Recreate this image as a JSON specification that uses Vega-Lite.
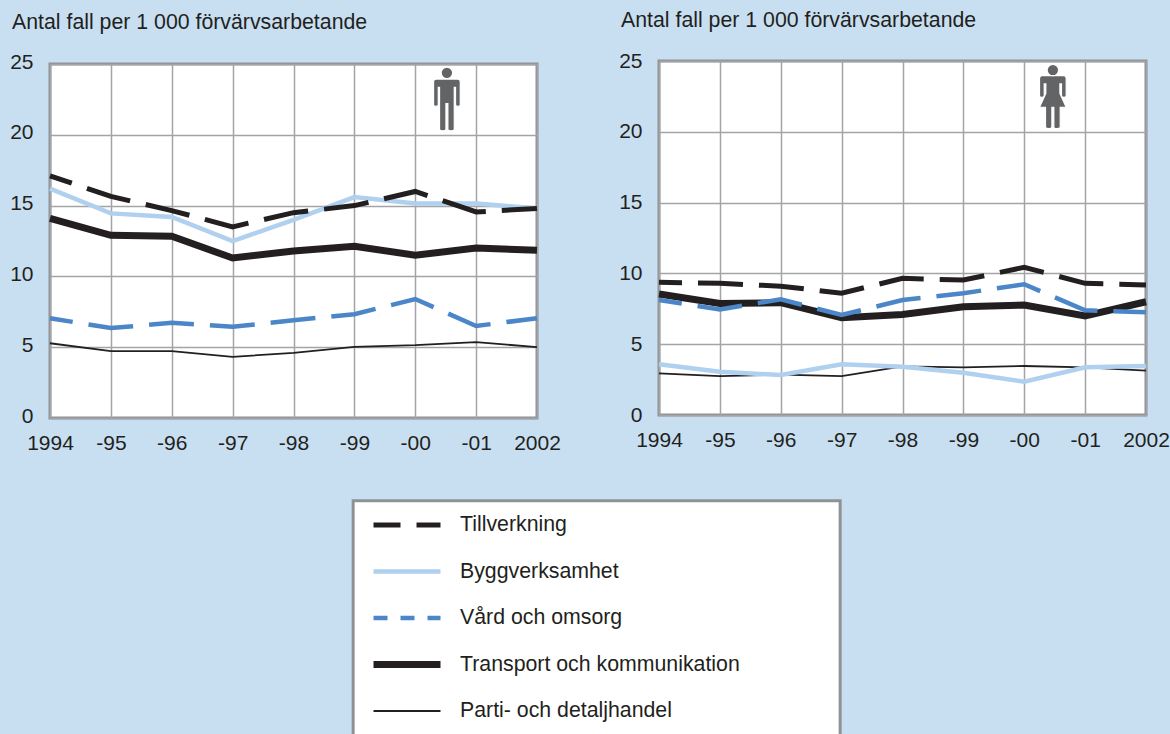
{
"$schema":"https://vega.github.io/schema/vega-lite/v6.json",
"background":"#c8dff2",
"padding":{"left":8,"top":8,"right":0,"bottom":0},
"datasets":{
"rows":[
{"p":"m","s":"Parti- och detaljhandel","y":1994,"v":5.28},{"p":"m","s":"Parti- och detaljhandel","y":1995,"v":4.72},{"p":"m","s":"Parti- och detaljhandel","y":1996,"v":4.72},{"p":"m","s":"Parti- och detaljhandel","y":1997,"v":4.32},{"p":"m","s":"Parti- och detaljhandel","y":1998,"v":4.6},{"p":"m","s":"Parti- och detaljhandel","y":1999,"v":5.03},{"p":"m","s":"Parti- och detaljhandel","y":2000,"v":5.14},{"p":"m","s":"Parti- och detaljhandel","y":2001,"v":5.36},{"p":"m","s":"Parti- och detaljhandel","y":2002,"v":5.0},
{"p":"m","s":"Transport och kommunikation","y":1994,"v":14.1},{"p":"m","s":"Transport och kommunikation","y":1995,"v":12.9},{"p":"m","s":"Transport och kommunikation","y":1996,"v":12.83},{"p":"m","s":"Transport och kommunikation","y":1997,"v":11.3},{"p":"m","s":"Transport och kommunikation","y":1998,"v":11.8},{"p":"m","s":"Transport och kommunikation","y":1999,"v":12.13},{"p":"m","s":"Transport och kommunikation","y":2000,"v":11.5},{"p":"m","s":"Transport och kommunikation","y":2001,"v":12.0},{"p":"m","s":"Transport och kommunikation","y":2002,"v":11.85},
{"p":"m","s":"Byggverksamhet","y":1994,"v":16.2},{"p":"m","s":"Byggverksamhet","y":1995,"v":14.45},{"p":"m","s":"Byggverksamhet","y":1996,"v":14.2},{"p":"m","s":"Byggverksamhet","y":1997,"v":12.5},{"p":"m","s":"Byggverksamhet","y":1998,"v":14.0},{"p":"m","s":"Byggverksamhet","y":1999,"v":15.6},{"p":"m","s":"Byggverksamhet","y":2000,"v":15.15},{"p":"m","s":"Byggverksamhet","y":2001,"v":15.15},{"p":"m","s":"Byggverksamhet","y":2002,"v":14.8},
{"p":"m","s":"Vård och omsorg","y":1994,"v":7.05},{"p":"m","s":"Vård och omsorg","y":1995,"v":6.35},{"p":"m","s":"Vård och omsorg","y":1996,"v":6.72},{"p":"m","s":"Vård och omsorg","y":1997,"v":6.44},{"p":"m","s":"Vård och omsorg","y":1998,"v":6.9},{"p":"m","s":"Vård och omsorg","y":1999,"v":7.33},{"p":"m","s":"Vård och omsorg","y":2000,"v":8.4},{"p":"m","s":"Vård och omsorg","y":2001,"v":6.5},{"p":"m","s":"Vård och omsorg","y":2002,"v":7.05},
{"p":"m","s":"Tillverkning","y":1994,"v":17.1},{"p":"m","s":"Tillverkning","y":1995,"v":15.65},{"p":"m","s":"Tillverkning","y":1996,"v":14.65},{"p":"m","s":"Tillverkning","y":1997,"v":13.5},{"p":"m","s":"Tillverkning","y":1998,"v":14.5},{"p":"m","s":"Tillverkning","y":1999,"v":15.0},{"p":"m","s":"Tillverkning","y":2000,"v":16.0},{"p":"m","s":"Tillverkning","y":2001,"v":14.55},{"p":"m","s":"Tillverkning","y":2002,"v":14.8},
{"p":"k","s":"Parti- och detaljhandel","y":1994,"v":2.94},{"p":"k","s":"Parti- och detaljhandel","y":1995,"v":2.75},{"p":"k","s":"Parti- och detaljhandel","y":1996,"v":2.85},{"p":"k","s":"Parti- och detaljhandel","y":1997,"v":2.75},{"p":"k","s":"Parti- och detaljhandel","y":1998,"v":3.43},{"p":"k","s":"Parti- och detaljhandel","y":1999,"v":3.37},{"p":"k","s":"Parti- och detaljhandel","y":2000,"v":3.46},{"p":"k","s":"Parti- och detaljhandel","y":2001,"v":3.37},{"p":"k","s":"Parti- och detaljhandel","y":2002,"v":3.13},
{"p":"k","s":"Transport och kommunikation","y":1994,"v":8.54},{"p":"k","s":"Transport och kommunikation","y":1995,"v":7.88},{"p":"k","s":"Transport och kommunikation","y":1996,"v":7.93},{"p":"k","s":"Transport och kommunikation","y":1997,"v":6.87},{"p":"k","s":"Transport och kommunikation","y":1998,"v":7.1},{"p":"k","s":"Transport och kommunikation","y":1999,"v":7.65},{"p":"k","s":"Transport och kommunikation","y":2000,"v":7.77},{"p":"k","s":"Transport och kommunikation","y":2001,"v":7.0},{"p":"k","s":"Transport och kommunikation","y":2002,"v":8.0},
{"p":"k","s":"Byggverksamhet","y":1994,"v":3.58},{"p":"k","s":"Byggverksamhet","y":1995,"v":3.06},{"p":"k","s":"Byggverksamhet","y":1996,"v":2.82},{"p":"k","s":"Byggverksamhet","y":1997,"v":3.58},{"p":"k","s":"Byggverksamhet","y":1998,"v":3.41},{"p":"k","s":"Byggverksamhet","y":1999,"v":2.99},{"p":"k","s":"Byggverksamhet","y":2000,"v":2.35},{"p":"k","s":"Byggverksamhet","y":2001,"v":3.37},{"p":"k","s":"Byggverksamhet","y":2002,"v":3.46},
{"p":"k","s":"Vård och omsorg","y":1994,"v":8.12},{"p":"k","s":"Vård och omsorg","y":1995,"v":7.46},{"p":"k","s":"Vård och omsorg","y":1996,"v":8.17},{"p":"k","s":"Vård och omsorg","y":1997,"v":7.06},{"p":"k","s":"Vård och omsorg","y":1998,"v":8.12},{"p":"k","s":"Vård och omsorg","y":1999,"v":8.6},{"p":"k","s":"Vård och omsorg","y":2000,"v":9.23},{"p":"k","s":"Vård och omsorg","y":2001,"v":7.4},{"p":"k","s":"Vård och omsorg","y":2002,"v":7.25},
{"p":"k","s":"Tillverkning","y":1994,"v":9.37},{"p":"k","s":"Tillverkning","y":1995,"v":9.3},{"p":"k","s":"Tillverkning","y":1996,"v":9.1},{"p":"k","s":"Tillverkning","y":1997,"v":8.6},{"p":"k","s":"Tillverkning","y":1998,"v":9.65},{"p":"k","s":"Tillverkning","y":1999,"v":9.53},{"p":"k","s":"Tillverkning","y":2000,"v":10.43},{"p":"k","s":"Tillverkning","y":2001,"v":9.3},{"p":"k","s":"Tillverkning","y":2002,"v":9.18}
],
"iconM":[{"y":2000.52,"v":22.5}],
"iconK":[{"y":2000.47,"v":22.48}],
"box":[{"x0":1998.98,"x1":2006.98,"y0":-5.85,"y1":-23.2}]
},
"config":{
"font":"Liberation Sans",
"view":{"fill":"white","stroke":"#8f9295","strokeWidth":3},
"axis":{"labelFont":"Liberation Sans","labelFontSize":21,"labelColor":"#231f20","gridColor":"#a2a4a7","gridWidth":1.5,"gridOpacity":1,"ticks":false,"domain":false,"title":null,"labelOverlap":false},
"axisX":{"labelPadding":14,"labelFlush":false},
"axisY":{"labelPadding":17},
"title":{"font":"Liberation Sans","fontSize":21.3,"fontWeight":"normal","color":"#231f20","anchor":"start","frame":"group","dx":-38}
},
"bounds":"flush",
"spacing":609,
"hconcat":[
{"bounds":"flush","spacing":2,"vconcat":[
{"width":487,"height":1,"view":{"stroke":null,"fill":null},"data":{"values":[{"a":1}]},"mark":{"type":"rect","opacity":0},"encoding":{}},
{
"width":487,"height":354,
"title":{"text":"Antal fall per 1 000 förvärvsarbetande","offset":18},
"encoding":{
"x":{"field":"y","type":"quantitative","scale":{"domain":[1994,2002],"nice":false,"zero":false},"axis":{"values":[1994,1995,1996,1997,1998,1999,2000,2001,2002],"grid":true,"labelExpr":"datum.value == 1994 || datum.value == 2002 ? format(datum.value,'d') : '-' + slice(format(datum.value,'d'),2)"}},
"y":{"field":"v","type":"quantitative","scale":{"domain":[0,25],"nice":false},"axis":{"values":[0,5,10,15,20,25],"grid":true,"labelOffset":-2}}
},
"layer":[
{"data":{"name":"box"},"mark":{"type":"rect","clip":false,"fill":"white","stroke":"#8f9295","strokeWidth":3},
"encoding":{"x":{"field":"x0","type":"quantitative"},"x2":{"field":"x1"},"y":{"field":"y0","type":"quantitative"},"y2":{"field":"y1"}}},
{"data":{"name":"rows"},"transform":[{"filter":"datum.p === 'm' && datum.s !== 'Tillverkning' && datum.s !== 'Vård och omsorg'"}],
"mark":{"type":"line","clip":false,"strokeCap":"butt","strokeJoin":"miter"},
"encoding":{
"color":{"field":"s","type":"nominal","scale":{"domain":["Tillverkning","Byggverksamhet","Vård och omsorg","Transport och kommunikation","Parti- och detaljhandel"],"range":["#231f20","#afd0ee","#4a86c8","#231f20","#231f20"]},
"legend":{"title":null,"orient":"none","legendX":303,"legendY":439,"padding":15,"symbolType":"stroke","symbolSize":4489,"clipHeight":20,"rowPadding":24.5,"symbolOffset":2,"labelOffset":16,"labelFontSize":21.3,"labelFont":"Liberation Sans","labelColor":"#231f20","labelLimit":600,
"encoding":{"symbols":{
"strokeDash":{"value":{"signal":"datum.value === 'Tillverkning' ? [27,16] : datum.value === 'Vård och omsorg' ? [14,13] : [1,0]"}}}}}},
"strokeWidth":{"field":"s","type":"nominal","scale":{"type":"ordinal","domain":["Tillverkning","Byggverksamhet","Vård och omsorg","Transport och kommunikation","Parti- och detaljhandel"],"range":[5,4.5,4.5,7,1.8]},
"legend":{"title":null,"orient":"none","legendX":303,"legendY":439,"padding":15,"symbolType":"stroke","symbolSize":4489,"clipHeight":20,"rowPadding":24.5,"symbolOffset":2,"labelOffset":16,"labelFontSize":21.3,"labelFont":"Liberation Sans","labelColor":"#231f20","labelLimit":600}}
}},
{"data":{"name":"rows"},"transform":[{"filter":"datum.p === 'm' && (datum.s === 'Tillverkning' || datum.s === 'Vård och omsorg')"}],
"mark":{"type":"line","clip":false,"strokeCap":"butt","strokeJoin":"miter","strokeDash":[45,16],"strokeDashOffset":22},
"encoding":{
"color":{"field":"s","type":"nominal"},
"strokeWidth":{"field":"s","type":"nominal","scale":{"type":"ordinal","domain":["Tillverkning","Byggverksamhet","Vård och omsorg","Transport och kommunikation","Parti- och detaljhandel"],"range":[5,4.5,4.5,7,1.8]}}
}},
{"data":{"name":"iconM"},
"mark":{"type":"point","filled":true,"fill":"#636466","stroke":"white","strokeWidth":1.2,"opacity":1,"size":4096,
"shape":"M -0.18 -0.83 a 0.18 0.18 0 1 0 0.36 0 a 0.18 0.18 0 1 0 -0.36 0 Z M -0.34 -0.635 L 0.34 -0.635 Q 0.417 -0.635 0.417 -0.55 L 0.417 0.17 Q 0.417 0.22 0.35 0.22 Q 0.27 0.22 0.27 0.17 L 0.27 -0.375 L 0.23 -0.375 L 0.23 0.93 Q 0.23 0.98 0.13 0.98 Q 0.03 0.98 0.03 0.93 L 0.03 0.13 L -0.03 0.13 L -0.03 0.93 Q -0.03 0.98 -0.13 0.98 Q -0.23 0.98 -0.23 0.93 L -0.23 -0.375 L -0.27 -0.375 L -0.27 0.17 Q -0.27 0.22 -0.35 0.22 Q -0.417 0.22 -0.417 0.17 L -0.417 -0.55 Q -0.417 -0.635 -0.34 -0.635 Z"}}
]
}]},
{
"width":487,"height":354,
"title":{"text":"Antal fall per 1 000 förvärvsarbetande","offset":19},
"encoding":{
"x":{"field":"y","type":"quantitative","scale":{"domain":[1994,2002],"nice":false,"zero":false},"axis":{"values":[1994,1995,1996,1997,1998,1999,2000,2001,2002],"grid":true,"labelExpr":"datum.value == 1994 || datum.value == 2002 ? format(datum.value,'d') : '-' + slice(format(datum.value,'d'),2)"}},
"y":{"field":"v","type":"quantitative","scale":{"domain":[0,25],"nice":false},"axis":{"values":[0,5,10,15,20,25],"grid":true}}
},
"layer":[
{"data":{"name":"rows"},"transform":[{"filter":"datum.p === 'k' && datum.s !== 'Tillverkning' && datum.s !== 'Vård och omsorg'"}],
"mark":{"type":"line","clip":false,"strokeCap":"butt","strokeJoin":"miter"},
"encoding":{
"color":{"field":"s","type":"nominal"},
"strokeWidth":{"field":"s","type":"nominal","scale":{"type":"ordinal","domain":["Tillverkning","Byggverksamhet","Vård och omsorg","Transport och kommunikation","Parti- och detaljhandel"],"range":[5,4.5,4.5,7,1.8]}}
}},
{"data":{"name":"rows"},"transform":[{"filter":"datum.p === 'k' && (datum.s === 'Tillverkning' || datum.s === 'Vård och omsorg')"}],
"mark":{"type":"line","clip":false,"strokeCap":"butt","strokeJoin":"miter","strokeDash":[45,16],"strokeDashOffset":22},
"encoding":{
"color":{"field":"s","type":"nominal"},
"strokeWidth":{"field":"s","type":"nominal","scale":{"type":"ordinal","domain":["Tillverkning","Byggverksamhet","Vård och omsorg","Transport och kommunikation","Parti- och detaljhandel"],"range":[5,4.5,4.5,7,1.8]}}
}},
{"data":{"name":"iconK"},
"mark":{"type":"point","filled":true,"fill":"#636466","stroke":"white","strokeWidth":1.2,"opacity":1,"size":4096,
"shape":"M -0.18 -0.83 a 0.18 0.18 0 1 0 0.36 0 a 0.18 0.18 0 1 0 -0.36 0 Z M -0.34 -0.656 L 0.34 -0.656 Q 0.417 -0.656 0.417 -0.57 L 0.417 -0.03 Q 0.417 0.02 0.35 0.02 Q 0.27 0.02 0.27 -0.03 L 0.27 -0.4 L 0.22 -0.4 L 0.22 -0.1 L 0.417 0.33 L 0.23 0.33 L 0.23 0.95 Q 0.23 1 0.13 1 Q 0.03 1 0.03 0.95 L 0.03 0.33 L -0.03 0.33 L -0.03 0.95 Q -0.03 1 -0.13 1 Q -0.23 1 -0.23 0.95 L -0.23 0.33 L -0.417 0.33 L -0.22 -0.1 L -0.22 -0.4 L -0.27 -0.4 L -0.27 -0.03 Q -0.27 0.02 -0.35 0.02 Q -0.417 0.02 -0.417 -0.03 L -0.417 -0.57 Q -0.417 -0.656 -0.34 -0.656 Z"}}
]
}
]
}
